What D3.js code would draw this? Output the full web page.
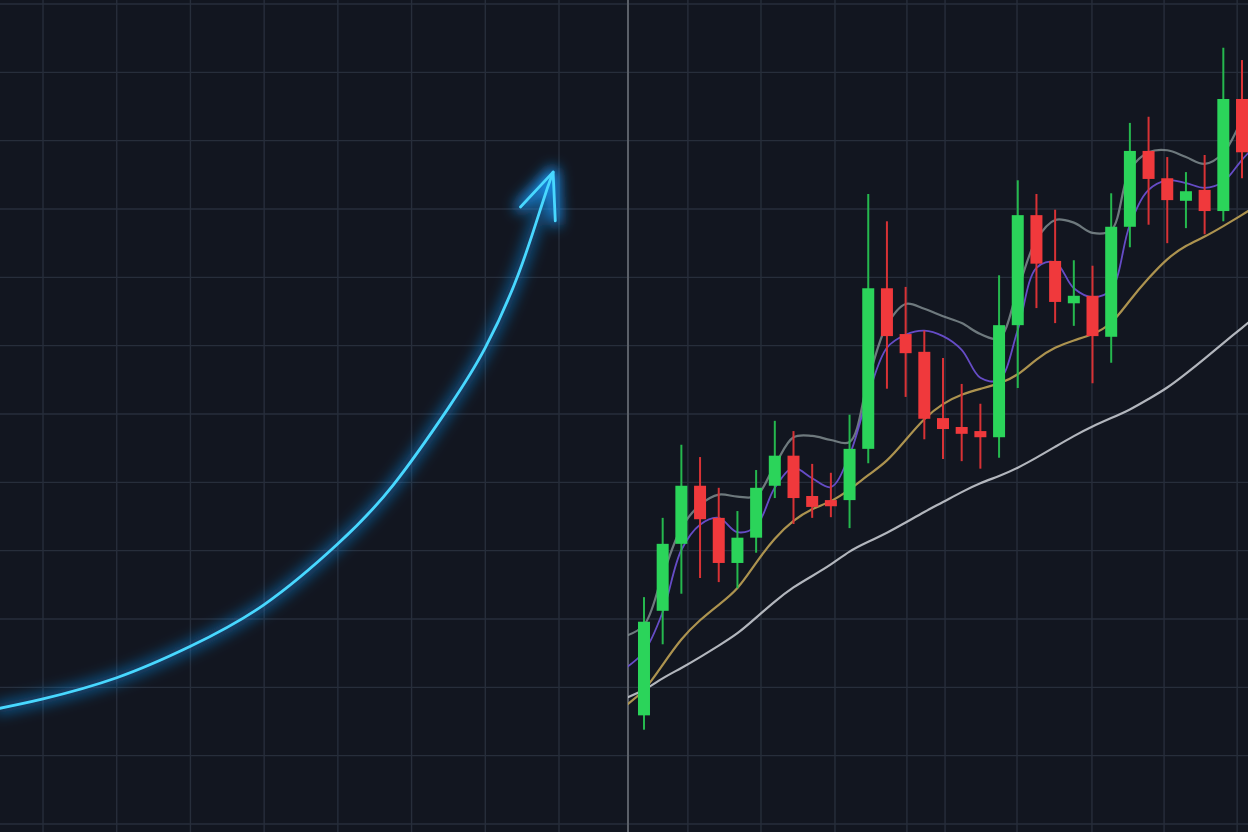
<!DOCTYPE html>
<html>
<head>
<meta charset="utf-8">
<script src="https://cdn.jsdelivr.net/npm/d3@7"></script>
<style>
  html, body { margin: 0; padding: 0; background: #121620; overflow: hidden; }
  svg { display: block; }
</style>
</head>
<body>
<svg id="chart" width="1248" height="832"></svg>
<script>
// ---------------- DATA ----------------
// candle sessions (index) and OHLC prices
const sessions = d3.range(33);
const openPrices  = [15.9, 31.2, 41.0, 49.5, 44.8, 38.2, 41.9, 49.5, 53.9, 48.0, 47.4, 47.4, 54.9, 78.4, 71.7, 69.1, 59.4, 58.1, 57.5, 56.6, 73.0, 89.1, 82.4, 76.2, 77.3, 71.3, 87.4, 98.5, 94.5, 91.2, 92.8, 89.7, 106.1];
const highPrices  = [33.2, 44.8, 55.5, 53.7, 49.2, 45.8, 51.8, 59.0, 57.5, 52.7, 51.4, 59.9, 92.2, 88.2, 78.6, 72.2, 68.2, 64.4, 61.5, 80.3, 94.2, 92.2, 89.9, 82.5, 81.7, 92.3, 102.6, 103.5, 97.6, 95.4, 97.9, 113.6, 111.8];
const lowPrices   = [13.8, 26.3, 33.7, 36.0, 35.4, 34.5, 39.7, 47.7, 43.9, 44.8, 44.9, 43.3, 52.8, 63.7, 62.5, 56.3, 53.4, 53.1, 52.0, 53.6, 63.8, 75.5, 73.3, 72.9, 64.5, 67.5, 84.4, 87.7, 85.0, 87.2, 86.3, 88.2, 94.5];
const closePrices = [29.6, 41.0, 49.5, 44.6, 38.2, 41.9, 49.2, 53.9, 47.7, 46.4, 46.5, 54.9, 78.4, 71.4, 68.9, 59.3, 57.8, 57.1, 56.6, 73.0, 89.1, 82.0, 76.4, 77.3, 71.4, 87.4, 98.5, 94.4, 91.3, 92.6, 89.7, 106.1, 98.3];

// moving-average style overlay lines (sessions -1 .. 33)
const lineSessions = d3.range(-1, 34);
const upperBand = [27.5, 29.1, 36.4, 43.3, 46.7, 48.2, 47.9, 48.0, 52.5, 56.6, 56.8, 56.2, 55.9, 65.0, 73.0, 76.1, 75.4, 74.3, 73.3, 71.7, 71.1, 78.2, 85.5, 88.4, 88.0, 86.5, 86.9, 95.7, 98.3, 98.6, 97.6, 96.6, 98.2, 103.0, 107.4];
const fastMA    = [22.8, 25.2, 31.0, 40.1, 43.8, 44.8, 42.7, 43.6, 49.2, 52.1, 50.6, 49.3, 54.0, 62.8, 69.7, 71.6, 72.2, 71.4, 69.4, 65.3, 65.0, 72.3, 81.4, 82.2, 78.4, 77.1, 78.2, 87.7, 92.8, 94.2, 93.8, 93.1, 94.0, 97.2, 100.1];
const midMA     = [17.3, 19.3, 23.3, 27.2, 29.9, 32.1, 34.2, 38.3, 41.9, 44.5, 46.2, 47.1, 48.9, 51.1, 53.0, 56.2, 59.4, 61.6, 62.9, 63.7, 64.4, 65.6, 68.1, 69.8, 70.8, 71.6, 73.0, 76.7, 79.9, 82.8, 84.7, 85.9, 87.5, 89.1, 90.9];
const slowMA    = [18.4, 19.5, 21.4, 22.8, 24.4, 26.1, 27.8, 30.2, 32.6, 34.7, 36.3, 37.9, 40.0, 41.3, 42.6, 44.1, 45.7, 47.1, 48.6, 49.9, 50.9, 52.1, 53.6, 55.2, 56.8, 58.2, 59.4, 60.6, 62.2, 63.8, 65.9, 68.1, 70.4, 72.6, 74.9];

// trend arrow (left panel): period vs value
const trendPeriods = [0.35, 1, 2, 3, 4, 5, 5.75, 6.5, 7, 7.45, 7.77, 7.92];
const trendValues  = [16.8, 18.3, 21.4, 26.0, 32.1, 41.0, 49.6, 60.9, 69.7, 80.5, 90.7, 95.4];

// grid ticks
const priceTicks = d3.range(0, 121, 10);
const leftGridTicks = [1, 2, 3, 4, 5, 6, 7, 8];
const rightGridTicks = [2.35, 6.26, 10.22, 14.07, 16.11, 19.96, 23.97, 27.83, 31.74];

// ---------------- LAYOUT ----------------
const W = 1248, H = 832;
const splitX = 628;
const svg = d3.select('#chart');

const y = d3.scaleLinear().domain([0, 120]).range([824, 4]);
const xLeft = d3.scaleLinear().domain([0, 8]).range([-30.7, 559]);
const x = d3.scaleLinear().domain([-1, 33]).range([625.3, 1260.7]);

const defs = svg.append('defs');
defs.append('clipPath').attr('id', 'rightClip')
  .append('rect').attr('x', splitX).attr('y', 0).attr('width', W - splitX).attr('height', H);
defs.append('clipPath').attr('id', 'leftClip')
  .append('rect').attr('x', 0).attr('y', 0).attr('width', splitX).attr('height', H);

const blur = defs.append('filter').attr('id', 'glow')
  .attr('x', '-30%').attr('y', '-30%').attr('width', '160%').attr('height', '160%');
blur.append('feGaussianBlur').attr('stdDeviation', 7);

function addMarker(id, color, width) {
  const m = defs.append('marker').attr('id', id)
    .attr('viewBox', '-60 -30 70 60')
    .attr('refX', 0).attr('refY', 0)
    .attr('markerWidth', 70).attr('markerHeight', 60)
    .attr('markerUnits', 'userSpaceOnUse')
    .attr('orient', 'auto');
  m.append('path').attr('d', 'M-44,-18.5 L0,0 L-45,19')
    .attr('fill', 'none').attr('stroke', color).attr('stroke-width', width)
    .attr('stroke-linecap', 'round').attr('stroke-linejoin', 'round');
}
addMarker('arrowGlow', '#1a9cff', 10);
addMarker('arrowCore', '#48d8ff', 2.8);

// background
svg.append('rect').attr('width', W).attr('height', H).attr('fill', '#121620');

// ---------------- GRID ----------------
const grid = svg.append('g').attr('stroke', '#272e3b').attr('stroke-width', 1.4);
grid.selectAll('line.h').data(priceTicks).join('line')
  .attr('x1', 0).attr('x2', W)
  .attr('y1', d => y(d)).attr('y2', d => y(d));
grid.selectAll('line.vl').data(leftGridTicks).join('line')
  .attr('x1', d => xLeft(d)).attr('x2', d => xLeft(d))
  .attr('y1', 0).attr('y2', H);
grid.selectAll('line.vr').data(rightGridTicks).join('line')
  .attr('x1', d => x(d)).attr('x2', d => x(d))
  .attr('y1', 0).attr('y2', H);

// divider between panels
svg.append('line').attr('x1', splitX).attr('x2', splitX).attr('y1', 0).attr('y2', H)
  .attr('stroke', '#5b6069').attr('stroke-width', 2);

// ---------------- LEFT: TREND ARROW ----------------
const trendLine = d3.line()
  .x((d, i) => xLeft(trendPeriods[i]))
  .y(d => y(d))
  .curve(d3.curveNatural);
const left = svg.append('g').attr('clip-path', 'url(#leftClip)');
left.append('path').attr('d', trendLine(trendValues))
  .attr('fill', 'none').attr('stroke', '#1a9cff').attr('stroke-width', 11)
  .attr('stroke-opacity', 0.5).attr('filter', 'url(#glow)')
  .attr('marker-end', 'url(#arrowGlow)');
left.append('path').attr('d', trendLine(trendValues))
  .attr('fill', 'none').attr('stroke', '#48d8ff').attr('stroke-width', 2.8)
  .attr('stroke-linecap', 'round')
  .attr('marker-end', 'url(#arrowCore)');

// ---------------- RIGHT: OVERLAY LINES ----------------
const right = svg.append('g').attr('clip-path', 'url(#rightClip)');
const makeLine = curve => d3.line()
  .x((d, i) => x(lineSessions[i]))
  .y(d => y(d))
  .curve(curve);

const overlays = [
  { values: slowMA,    color: '#c4c8ce', width: 2.2, opacity: 0.9,  curve: d3.curveBasis },
  { values: midMA,     color: '#b59a52', width: 2.2, opacity: 0.95, curve: d3.curveBasis },
  { values: upperBand, color: '#7f8b8e', width: 2.2, opacity: 0.85, curve: d3.curveCatmullRom.alpha(0.5) },
  { values: fastMA,    color: '#6a4fd0', width: 1.8, opacity: 0.95, curve: d3.curveCatmullRom.alpha(0.5) }
];
right.selectAll('path.ov').data(overlays).join('path')
  .attr('class', 'ov')
  .attr('d', d => makeLine(d.curve)(d.values))
  .attr('fill', 'none')
  .attr('stroke', d => d.color)
  .attr('stroke-width', d => d.width)
  .attr('stroke-opacity', d => d.opacity);

// ---------------- RIGHT: CANDLES ----------------
const green = '#2bd45a', red = '#f0393c';
const bodyW = 12;
const candles = right.selectAll('g.c').data(sessions).join('g').attr('class', 'c');
candles.append('line')
  .attr('x1', i => x(i)).attr('x2', i => x(i))
  .attr('y1', i => y(highPrices[i])).attr('y2', i => y(lowPrices[i]))
  .attr('stroke', i => closePrices[i] >= openPrices[i] ? '#25b84e' : '#d83235')
  .attr('stroke-width', 2);
candles.append('rect')
  .attr('x', i => x(i) - bodyW / 2)
  .attr('width', bodyW)
  .attr('y', i => y(Math.max(openPrices[i], closePrices[i])))
  .attr('height', i => Math.max(2, Math.abs(y(openPrices[i]) - y(closePrices[i]))))
  .attr('fill', i => closePrices[i] >= openPrices[i] ? green : red);
</script>
</body>
</html>
